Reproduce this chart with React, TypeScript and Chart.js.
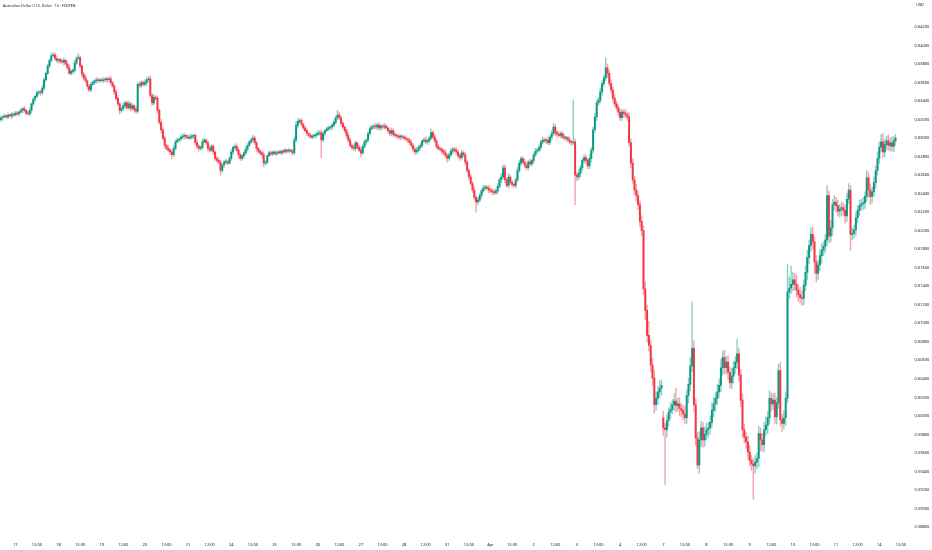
import { useEffect, useRef } from 'react';
import { Chart, registerables } from 'chart.js';

Chart.register(...registerables);

const TITLE = 'Australian Dollar / U.S. Dollar · 1h · FXOPEN';
const CURRENCY = 'USD';

// hourly closes, one array per trading week
const closesWeek1 = [
  0.6322, 0.6323, 0.6324, 0.6323, 0.6325, 0.6324, 0.6326, 0.6325, 0.6327, 0.6326,
  0.6328, 0.6330, 0.6332, 0.6330, 0.6327, 0.6326, 0.6330, 0.6337, 0.6342, 0.6345,
  0.6349, 0.6350, 0.6349, 0.6354, 0.6363, 0.6370, 0.6378, 0.6384, 0.6389, 0.6390,
  0.6386, 0.6384, 0.6385, 0.6383, 0.6382, 0.6384, 0.6380, 0.6376, 0.6370, 0.6372,
  0.6373, 0.6381, 0.6386, 0.6387, 0.6378, 0.6369, 0.6365, 0.6362, 0.6356, 0.6352,
  0.6358, 0.6360, 0.6362, 0.6363, 0.6362, 0.6363, 0.6362, 0.6363, 0.6364, 0.6363,
  0.6364, 0.6360, 0.6356, 0.6350, 0.6343, 0.6337, 0.6330, 0.6332, 0.6335, 0.6338,
  0.6333, 0.6337, 0.6332, 0.6335, 0.6331, 0.6329, 0.6358, 0.6357, 0.6360, 0.6358,
  0.6360, 0.6363, 0.6364, 0.6346, 0.6338, 0.6344, 0.6343, 0.6330, 0.6317, 0.6309,
  0.6300, 0.6292, 0.6289, 0.6287, 0.6285, 0.6282, 0.6289, 0.6296, 0.6298, 0.6299,
  0.6301, 0.6302, 0.6303, 0.6301, 0.6300, 0.6301, 0.6302, 0.6303, 0.6295, 0.6291,
  0.6289, 0.6290, 0.6296, 0.6298, 0.6295, 0.6289, 0.6287, 0.6291, 0.6285, 0.6278,
  0.6276, 0.6274, 0.6265, 0.6271, 0.6274, 0.6274, 0.6273, 0.6278,
];
const closesWeek2 = [
  0.6285, 0.6290,
  0.6291, 0.6287, 0.6282, 0.6278, 0.6281, 0.6284, 0.6288, 0.6292, 0.6296, 0.6298,
  0.6300, 0.6295, 0.6289, 0.6286, 0.6284, 0.6282, 0.6273, 0.6274, 0.6281, 0.6284,
  0.6283, 0.6285, 0.6283, 0.6284, 0.6285, 0.6284, 0.6286, 0.6285, 0.6287, 0.6286,
  0.6287, 0.6286, 0.6284, 0.6298, 0.6314, 0.6318, 0.6319, 0.6315, 0.6311, 0.6308,
  0.6305, 0.6303, 0.6301, 0.6302, 0.6303, 0.6304, 0.6305, 0.6306, 0.6298, 0.6305,
  0.6308, 0.6310, 0.6311, 0.6312, 0.6314, 0.6317, 0.6322, 0.6325, 0.6322, 0.6316,
  0.6312, 0.6308, 0.6303, 0.6298, 0.6292, 0.6290, 0.6289, 0.6295, 0.6290, 0.6287,
  0.6284, 0.6291, 0.6296, 0.6298, 0.6305, 0.6310, 0.6312, 0.6313, 0.6312, 0.6314,
  0.6311, 0.6313, 0.6312, 0.6313, 0.6311, 0.6308, 0.6305, 0.6308, 0.6304, 0.6303,
  0.6302, 0.6301, 0.6302, 0.6301, 0.6300, 0.6299, 0.6298, 0.6295, 0.6292, 0.6288,
  0.6285, 0.6287, 0.6290, 0.6292, 0.6297, 0.6298, 0.6296, 0.6297, 0.6300, 0.6306,
  0.6301, 0.6297, 0.6291, 0.6289, 0.6288, 0.6286, 0.6284, 0.6281,
];
const closesWeek3 = [
  0.6278, 0.6282,
  0.6286, 0.6288, 0.6287, 0.6285, 0.6281, 0.6279, 0.6284, 0.6282, 0.6274, 0.6265,
  0.6258, 0.6251, 0.6244, 0.6236, 0.6231, 0.6233, 0.6238, 0.6243, 0.6246, 0.6247,
  0.6246, 0.6244, 0.6243, 0.6242, 0.6241, 0.6243, 0.6248, 0.6255, 0.6258, 0.6268,
  0.6255, 0.6249, 0.6258, 0.6252, 0.6250, 0.6249, 0.6255, 0.6265, 0.6273, 0.6278,
  0.6274, 0.6271, 0.6268, 0.6274, 0.6272, 0.6276, 0.6282, 0.6286, 0.6287, 0.6290,
  0.6296, 0.6298, 0.6297, 0.6298, 0.6295, 0.6301, 0.6305, 0.6312, 0.6306, 0.6304,
  0.6303, 0.6305, 0.6301, 0.6300, 0.6300, 0.6298, 0.6296, 0.6295, 0.6296, 0.6260,
  0.6258, 0.6262, 0.6268, 0.6276, 0.6279, 0.6276, 0.6270, 0.6278, 0.6287, 0.6309,
  0.6323, 0.6338, 0.6341, 0.6350, 0.6359, 0.6365, 0.6376, 0.6370, 0.6359, 0.6352,
  0.6343, 0.6337, 0.6333, 0.6328, 0.6322, 0.6328, 0.6327, 0.6325, 0.6323, 0.6295,
  0.6273, 0.6255, 0.6244, 0.6238, 0.6228, 0.6210, 0.6200, 0.6137, 0.6114, 0.6087,
  0.6076, 0.6055, 0.6041, 0.6012, 0.6019, 0.6026, 0.6030, 0.6033,
];
const closesWeek4 = [
  0.5987, 0.5985,
  0.5995, 0.6004, 0.6007, 0.6012, 0.6016, 0.6011, 0.6013, 0.6008, 0.6006, 0.6002,
  0.5998, 0.6022, 0.6034, 0.6054, 0.6073, 0.6012, 0.5976, 0.5947, 0.5974, 0.5987,
  0.5974, 0.5980, 0.5985, 0.5987, 0.5993, 0.6006, 0.6013, 0.6019, 0.6026, 0.6033,
  0.6052, 0.6063, 0.6052, 0.6058, 0.6047, 0.6036, 0.6043, 0.6052, 0.6058, 0.6067,
  0.6044, 0.6017, 0.5985, 0.5977, 0.5972, 0.5961, 0.5952, 0.5948, 0.5946, 0.5950,
  0.5954, 0.5981, 0.5974, 0.5969, 0.5985, 0.5990, 0.5998, 0.6019, 0.6013, 0.6017,
  0.5999, 0.6014, 0.6049, 0.5996, 0.5992, 0.5998, 0.6019, 0.6134, 0.6138, 0.6142,
  0.6147, 0.6142, 0.6136, 0.6131, 0.6128, 0.6127, 0.6141, 0.6155, 0.6171, 0.6184,
  0.6196, 0.6188, 0.6166, 0.6154, 0.6163, 0.6173, 0.6179, 0.6183, 0.6190, 0.6238,
  0.6194, 0.6203, 0.6228, 0.6231, 0.6227, 0.6221, 0.6223, 0.6225, 0.6222, 0.6216,
  0.6234, 0.6244, 0.6196, 0.6197, 0.6201, 0.6214, 0.6222, 0.6227, 0.6229, 0.6230,
  0.6237, 0.6257, 0.6244, 0.6237, 0.6242, 0.6252, 0.6265, 0.6278,
];
const closesWeek5 = [
  0.6290, 0.6296, 0.6285, 0.6293, 0.6297, 0.6292, 0.6295, 0.6291, 0.6297, 0.6300,
];

const firstOpen = 0.632;
const gapOpenIndex = 368; // Monday 7 Apr session opened with a gap
const gapOpen = 0.5998;

// wick lengths above / below the body, in pips
const upperWickPips = [
  2, 1, 2, 1, 2, 1, 2, 1, 2, 2, 1, 2, 1, 2, 1, 2, 3, 1, 2, 1,
  2, 1, 2, 3, 2, 1, 2, 1, 3, 2, 2, 3, 1, 2, 2, 3, 1, 2, 3, 2,
  2, 3, 2, 4, 2, 1, 2, 3, 1, 2, 3, 2, 1, 2, 2, 1, 2, 2, 1, 2,
  2, 3, 1, 2, 2, 3, 1, 2, 3, 2, 2, 3, 2, 2, 1, 3, 2, 3, 2, 2,
  3, 2, 3, 3, 2, 3, 2, 2, 2, 3, 2, 2, 1, 3, 2, 2, 3, 2, 2, 1,
  2, 3, 2, 1, 2, 3, 2, 1, 2, 3, 2, 2, 3, 2, 1, 2, 3, 2, 2, 1,
  2, 3, 2, 1, 2, 3, 2, 2, 3, 1, 2, 3, 2, 2, 1, 2, 3, 2, 1, 2,
  3, 2, 2, 1, 2, 2, 3, 2, 1, 2, 2, 1, 2, 2, 1, 2, 1, 2, 2, 1,
  2, 1, 2, 3, 4, 3, 2, 2, 1, 2, 2, 1, 2, 2, 1, 2, 3, 2, 3, 2,
  1, 2, 2, 1, 2, 3, 2, 5, 3, 2, 2, 1, 2, 3, 2, 2, 3, 2, 1, 2,
  3, 2, 2, 1, 2, 3, 2, 2, 3, 2, 3, 2, 2, 3, 2, 1, 2, 3, 2, 2,
  1, 2, 2, 1, 2, 2, 1, 2, 3, 2, 2, 3, 2, 2, 1, 2, 3, 2, 2, 4,
  2, 3, 2, 2, 1, 2, 2, 3, 2, 2, 3, 2, 2, 3, 2, 2, 3, 2, 2, 2,
  2, 3, 2, 3, 2, 3, 2, 2, 3, 2, 2, 3, 2, 2, 3, 2, 3, 2, 4, 3,
  3, 2, 4, 2, 3, 2, 2, 4, 3, 2, 2, 3, 2, 2, 3, 2, 2, 3, 2, 3,
  2, 3, 2, 2, 3, 2, 3, 4, 3, 2, 3, 2, 2, 3, 2, 2, 3, 2, 45, 3,
  3, 4, 3, 2, 3, 3, 2, 4, 3, 3, 4, 3, 3, 4, 3, 3, 11, 4, 3, 4,
  3, 4, 3, 3, 4, 3, 3, 4, 3, 4, 4, 5, 4, 6, 5, 4, 6, 5, 8, 6,
  15, 6, 7, 8, 7, 6, 8, 6, 7, 5, 6, 5, 7, 6, 8, 14, 6, 7, 5, 6,
  8, 6, 7, 9, 50, 8, 7, 6, 9, 7, 6, 8, 7, 6, 7, 8, 7, 6, 8, 7,
  9, 7, 8, 6, 7, 6, 8, 7, 6, 16, 6, 6, 7, 6, 5, 6, 7, 5, 6, 7,
  6, 8, 6, 7, 8, 9, 7, 8, 6, 7, 8, 6, 7, 9, 6, 8, 7, 30, 12, 20,
  8, 7, 10, 6, 8, 7, 6, 7, 8, 6, 7, 8, 6, 7, 5, 6, 7, 5, 6, 11,
  5, 8, 6, 7, 5, 6, 5, 6, 5, 6, 6, 7, 5, 6, 5, 6, 5, 6, 5, 6,
  5, 8, 6, 7, 5, 6, 5, 7, 6, 8, 9, 6, 5, 6, 5, 6, 5, 4,
];
const lowerWickPips = [
  2, 3, 1, 2, 2, 1, 3, 2, 1, 2, 2, 1, 3, 2, 2, 1, 2, 3, 2, 2,
  1, 2, 3, 2, 2, 2, 1, 2, 2, 1, 2, 2, 3, 2, 1, 3, 2, 2, 1, 2,
  3, 2, 2, 1, 2, 3, 2, 2, 3, 2, 2, 1, 2, 3, 2, 2, 1, 2, 2, 3,
  2, 2, 1, 3, 2, 2, 4, 2, 2, 3, 2, 2, 3, 2, 3, 2, 2, 3, 2, 2,
  2, 3, 2, 2, 3, 2, 2, 3, 2, 3, 2, 3, 2, 2, 3, 4, 2, 2, 1, 2,
  2, 2, 3, 2, 1, 2, 2, 3, 2, 2, 3, 2, 2, 1, 2, 3, 2, 2, 3, 2,
  2, 2, 5, 2, 3, 2, 2, 1, 2, 3, 2, 2, 3, 2, 2, 3, 2, 2, 1, 2,
  2, 2, 3, 2, 2, 3, 4, 2, 2, 1, 2, 2, 1, 2, 2, 1, 2, 2, 1, 2,
  2, 1, 2, 2, 2, 3, 2, 2, 2, 1, 2, 2, 1, 2, 2, 3, 2, 2, 19, 2,
  2, 1, 2, 2, 3, 2, 2, 2, 2, 3, 2, 2, 3, 2, 2, 3, 2, 3, 2, 2,
  4, 2, 2, 3, 2, 2, 1, 2, 2, 3, 2, 3, 2, 2, 1, 2, 2, 3, 2, 2,
  2, 2, 3, 2, 2, 2, 3, 2, 2, 3, 3, 2, 2, 3, 2, 2, 2, 3, 2, 2,
  2, 2, 3, 2, 2, 3, 2, 2, 4, 2, 2, 3, 2, 2, 3, 3, 2, 2, 3, 2,
  3, 2, 3, 3, 11, 3, 2, 3, 2, 2, 2, 3, 2, 3, 2, 2, 3, 2, 3, 2,
  3, 2, 3, 2, 3, 2, 3, 2, 2, 3, 2, 3, 2, 3, 2, 2, 3, 2, 2, 2,
  3, 2, 2, 3, 2, 2, 3, 2, 3, 2, 2, 3, 2, 2, 3, 2, 2, 3, 2, 32,
  4, 3, 4, 3, 3, 4, 3, 3, 4, 3, 3, 4, 3, 3, 4, 3, 3, 4, 3, 3,
  4, 3, 3, 4, 3, 3, 4, 3, 4, 4, 5, 4, 5, 6, 5, 6, 5, 6, 10, 7,
  6, 7, 8, 9, 6, 7, 6, 7, 8, 59, 8, 6, 7, 5, 6, 7, 6, 8, 7, 6,
  7, 6, 8, 7, 6, 7, 8, 4, 9, 7, 8, 7, 6, 8, 7, 6, 7, 8, 7, 6,
  7, 8, 6, 7, 8, 6, 7, 8, 6, 7, 6, 7, 8, 6, 7, 8, 6, 7, 36, 8,
  7, 9, 12, 7, 8, 6, 9, 7, 8, 6, 7, 8, 6, 7, 9, 6, 8, 5, 7, 6,
  7, 6, 8, 7, 6, 8, 7, 6, 8, 7, 6, 8, 12, 9, 7, 6, 8, 6, 7, 6,
  7, 6, 8, 6, 7, 5, 6, 7, 5, 8, 6, 5, 17, 6, 5, 6, 5, 6, 5, 6,
  6, 5, 8, 9, 7, 5, 6, 5, 6, 5, 6, 5, 6, 5, 6, 5, 6, 5,
];

// x-axis tick labels: one per 12 hourly bars, first one at bar 8
const timeTickLabels = [
  '17', '12:00', '18', '12:00', '19', '12:00', '20', '12:00', '21', '12:00',
  '24', '12:00', '25', '12:00', '26', '12:00', '27', '12:00', '28', '12:00',
  '31', '12:00', 'Apr', '12:00', '2', '12:00', '3', '12:00', '4', '12:00',
  '7', '12:00', '8', '12:00', '9', '12:00', '10', '12:00', '11', '12:00',
  '14', '12:00',
];
const firstTickBar = 8;
const barsPerTick = 12;
const emptyBarsRight = 4;

const priceTicks = [
  0.642, 0.64, 0.638, 0.636, 0.634, 0.632, 0.63, 0.628, 0.626, 0.624, 0.622, 0.62, 0.618, 0.616,
  0.614, 0.612, 0.61, 0.608, 0.606, 0.604, 0.602, 0.6, 0.598, 0.596, 0.594, 0.592, 0.59, 0.588,
];
const priceMax = 0.643469;
const priceMin = 0.586963;

const UP = '#089981';
const DOWN = '#f23645';
const UP_WICK = 'rgba(8,153,129,0.45)';
const DOWN_WICK = 'rgba(242,54,69,0.45)';
const TEXT = '#131722';
const FONT = '"Noto Sans", "DejaVu Sans", sans-serif';

export default function App() {
  const ref = useRef<HTMLCanvasElement | null>(null);

  useEffect(() => {
    if (!ref.current) return;
    const closes = [...closesWeek1, ...closesWeek2, ...closesWeek3, ...closesWeek4, ...closesWeek5];
    const n = closes.length;
    const total = n + emptyBarsRight;
    const labels: string[] = [];
    for (let i = 0; i < total; i++) {
      const k = (i - firstTickBar) / barsPerTick;
      labels.push(Number.isInteger(k) && k >= 0 && k < timeTickLabels.length ? timeTickLabels[k] : '');
    }
    const bodies: ([number, number] | null)[] = [];
    const wicks: ([number, number] | null)[] = [];
    const bodyColors: string[] = [];
    const wickColors: string[] = [];
    for (let i = 0; i < total; i++) {
      if (i >= n) {
        bodies.push(null);
        wicks.push(null);
        bodyColors.push(UP);
        wickColors.push(UP_WICK);
        continue;
      }
      const c = closes[i];
      const o = i === 0 ? firstOpen : i === gapOpenIndex ? gapOpen : closes[i - 1];
      const hi = Math.max(o, c) + upperWickPips[i] * 0.0001;
      const lo = Math.min(o, c) - lowerWickPips[i] * 0.0001;
      bodies.push([o, c]);
      wicks.push([lo, hi]);
      const up = c >= o;
      bodyColors.push(up ? UP : DOWN);
      wickColors.push(up ? UP_WICK : DOWN_WICK);
    }

    const textPlugin = {
      id: 'cornerTexts',
      afterDraw(chart: any) {
        const ctx = chart.ctx as CanvasRenderingContext2D;
        ctx.save();
        ctx.fillStyle = TEXT;
        ctx.textBaseline = 'middle';
        ctx.textAlign = 'left';
        ctx.font = `3.6px ${FONT}`;
        ctx.fillText(TITLE, 3, 6);
        ctx.font = `4px ${FONT}`;
        ctx.fillText(CURRENCY, 916, 5);
        ctx.restore();
      },
    };

    const chart = new Chart(ref.current, {
      type: 'bar',
      data: {
        labels,
        datasets: [
          {
            data: bodies as any,
            backgroundColor: bodyColors,
            borderWidth: 0,
            barThickness: 1.3,
            minBarLength: 1,
            grouped: false,
            order: 1,
          } as any,
          {
            data: wicks as any,
            backgroundColor: wickColors,
            borderWidth: 0,
            barThickness: 0.8,
            grouped: false,
            order: 2,
          } as any,
        ],
      },
      options: {
        responsive: false,
        animation: false,
        devicePixelRatio: 1,
        layout: { padding: 0 },
        plugins: { legend: { display: false }, tooltip: { enabled: false }, title: { display: false } },
        scales: {
          x: {
            grid: { display: false, drawTicks: false },
            border: { display: false },
            ticks: {
              autoSkip: false,
              maxRotation: 0,
              minRotation: 0,
              padding: 6,
              color: TEXT,
              font: { size: 4, family: FONT },
              callback: (_v: any, i: number) => (labels[i] ? labels[i] : null),
            },
            afterFit: (s: any) => {
              s.height = 13;
            },
          },
          y: {
            position: 'right',
            min: priceMin,
            max: priceMax,
            grid: { display: false, drawTicks: false },
            border: { display: false },
            ticks: {
              padding: 11,
              color: TEXT,
              font: { size: 4, family: FONT },
              callback: (v: any) => Number(v).toFixed(5),
            },
            afterBuildTicks: (s: any) => {
              s.ticks = priceTicks.map((v) => ({ value: v }));
            },
            afterFit: (s: any) => {
              s.width = 28.4;
            },
          },
        },
      },
      plugins: [textPlugin],
    });
    return () => chart.destroy();
  }, []);

  return (
    <div style={{ position: 'fixed', left: 0, top: 0, width: 932, height: 550, background: '#ffffff' }}>
      <canvas ref={ref} width={932} height={550} style={{ display: 'block', width: 932, height: 550 }} />
    </div>
  );
}
